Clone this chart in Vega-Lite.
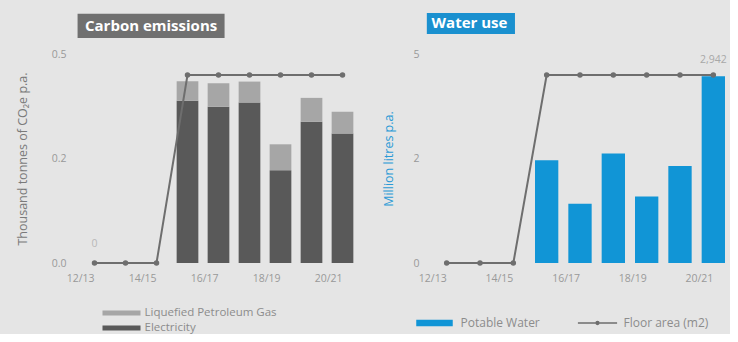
{
  "$schema": "https://vega.github.io/schema/vega-lite/v6.json",
  "background": "#e5e5e5",
  "padding": {"left": 16, "top": 13, "right": 0, "bottom": 0},
  "config": {
    "view": {"stroke": null},
    "font": "Open Sans",
    "axis": {"labelFont": "Open Sans", "titleFont": "Open Sans", "labelColor": "#999999", "labelFontSize": 10.5, "domain": false, "ticks": false, "grid": false},
    "legend": {"labelFont": "Open Sans", "labelColor": "#8c8c8c", "labelFontSize": 12}
  },
  "resolve": {"scale": {"color": "independent"}, "legend": {"color": "independent"}},
  "datasets": {
    "carbon": [
      {"year": "15/16", "source": "Electricity", "ord": 1, "value": 0.388},
      {"year": "15/16", "source": "Liquefied Petroleum Gas", "ord": 2, "value": 0.047},
      {"year": "16/17", "source": "Electricity", "ord": 1, "value": 0.374},
      {"year": "16/17", "source": "Liquefied Petroleum Gas", "ord": 2, "value": 0.056},
      {"year": "17/18", "source": "Electricity", "ord": 1, "value": 0.384},
      {"year": "17/18", "source": "Liquefied Petroleum Gas", "ord": 2, "value": 0.050},
      {"year": "18/19", "source": "Electricity", "ord": 1, "value": 0.222},
      {"year": "18/19", "source": "Liquefied Petroleum Gas", "ord": 2, "value": 0.062},
      {"year": "19/20", "source": "Electricity", "ord": 1, "value": 0.338},
      {"year": "19/20", "source": "Liquefied Petroleum Gas", "ord": 2, "value": 0.057},
      {"year": "20/21", "source": "Electricity", "ord": 1, "value": 0.310},
      {"year": "20/21", "source": "Liquefied Petroleum Gas", "ord": 2, "value": 0.052}
    ],
    "water": [
      {"year": "15/16", "series": "Potable Water", "value": 2.46},
      {"year": "16/17", "series": "Potable Water", "value": 1.42},
      {"year": "17/18", "series": "Potable Water", "value": 2.62},
      {"year": "18/19", "series": "Potable Water", "value": 1.59},
      {"year": "19/20", "series": "Potable Water", "value": 2.32},
      {"year": "20/21", "series": "Potable Water", "value": 4.47}
    ],
    "floor": [
      {"year": "12/13", "area": 0},
      {"year": "13/14", "area": 0},
      {"year": "14/15", "area": 0},
      {"year": "15/16", "area": 2942},
      {"year": "16/17", "area": 2942},
      {"year": "17/18", "area": 2942},
      {"year": "18/19", "area": 2942},
      {"year": "19/20", "area": 2942},
      {"year": "20/21", "area": 2942}
    ],
    "leftLabel": [{"year": "12/13", "area": 0, "lbl": "0"}],
    "rightLabel": [{"year": "20/21", "area": 2942, "lbl": "2,942"}],
    "leftTitle": [{"t": "Carbon emissions"}],
    "rightTitle": [{"t": "Water use"}]
  },
  "spacing": 24,
  "hconcat": [
    {
      "width": 279,
      "height": 209,
      "resolve": {"scale": {"y": "independent"}},
      "layer": [
        {
          "data": {"name": "leftTitle"},
          "mark": {"type": "rect", "color": "#707070", "clip": false},
          "encoding": {
            "x": {"datum": "12/13", "bandPosition": -0.28, "type": "ordinal", "scale": {"domain": ["12/13","13/14","14/15","15/16","16/17","17/18","18/19","19/20","20/21"], "paddingInner": 0.3, "paddingOuter": 0.15}},
            "x2": {"datum": "16/17", "bandPosition": 0.78},
            "y": {"datum": 0.538, "type": "quantitative", "scale": {"domain": [0, 0.5]}, "axis": null},
            "y2": {"datum": 0.596}
          }
        },
        {
          "data": {"name": "leftTitle"},
          "mark": {"type": "text", "color": "white", "fontWeight": "bold", "fontSize": 15, "baseline": "middle", "align": "center"},
          "encoding": {
            "x": {"datum": "14/15", "bandPosition": 0.25, "type": "ordinal"},
            "y": {"datum": 0.567, "type": "quantitative", "scale": {"domain": [0, 0.5]}, "axis": null},
            "text": {"field": "t"}
          }
        },
        {
          "data": {"name": "carbon"},
          "mark": {"type": "bar"},
          "encoding": {
            "x": {"field": "year", "type": "ordinal", "axis": {"title": null, "labelAngle": 0, "values": ["12/13","14/15","16/17","18/19","20/21"], "labelPadding": 15}},
            "y": {"field": "value", "type": "quantitative", "stack": "zero", "scale": {"domain": [0, 0.5]},
              "axis": {"values": [0, 0.25, 0.5], "labelExpr": "datum.value == 0.25 ? '0.2' : format(datum.value, '.1f')", "labelPadding": 13, "title": "Thousand tonnes of CO₂e p.a.", "titleColor": "#7a7a7a", "titleFontSize": 12.5, "titleFontWeight": "normal", "titlePadding": 22}},
            "color": {"field": "source", "type": "nominal",
              "scale": {"domain": ["Liquefied Petroleum Gas", "Electricity"], "range": ["#a6a6a6", "#595959"]},
              "legend": {"title": null, "orient": "none", "legendX": 34.5, "legendY": 251, "symbolType": "M-2.714,-0.36H2.714V0.36H-2.714Z", "symbolSize": 196, "rowPadding": 1, "labelOffset": 15, "labelFontSize": 11.5}},
            "order": {"field": "ord"}
          }
        },
        {
          "data": {"name": "floor"},
          "mark": {"type": "line", "color": "#6e6e6e", "strokeWidth": 2, "point": {"filled": true, "size": 30, "color": "#6e6e6e"}},
          "encoding": {
            "x": {"field": "year", "type": "ordinal"},
            "y": {"field": "area", "type": "quantitative", "scale": {"domain": [0, 3270]}, "axis": null}
          }
        },
        {
          "data": {"name": "leftLabel"},
          "mark": {"type": "text", "color": "#b8b8b8", "fontSize": 10.5, "dy": -19},
          "encoding": {
            "x": {"field": "year", "type": "ordinal"},
            "y": {"field": "area", "type": "quantitative", "scale": {"domain": [0, 3270]}, "axis": null},
            "text": {"field": "lbl"}
          }
        }
      ]
    },
    {
      "width": 300,
      "height": 209,
      "resolve": {"scale": {"y": "independent"}},
      "layer": [
        {
          "data": {"name": "rightTitle"},
          "mark": {"type": "rect", "color": "#1a90cf", "clip": false},
          "encoding": {
            "x": {"datum": "12/13", "bandPosition": -0.35, "type": "ordinal", "scale": {"domain": ["12/13","13/14","14/15","15/16","16/17","17/18","18/19","19/20","20/21"], "paddingInner": 0.3, "paddingOuter": 0.15}},
            "x2": {"datum": "14/15", "bandPosition": 0.57},
            "y": {"datum": 5.48, "type": "quantitative", "scale": {"domain": [0, 5]}, "axis": null},
            "y2": {"datum": 5.98}
          }
        },
        {
          "data": {"name": "rightTitle"},
          "mark": {"type": "text", "color": "white", "fontWeight": "bold", "fontSize": 15, "baseline": "middle", "align": "center"},
          "encoding": {
            "x": {"datum": "13/14", "bandPosition": 0.05, "type": "ordinal"},
            "y": {"datum": 5.73, "type": "quantitative", "scale": {"domain": [0, 5]}, "axis": null},
            "text": {"field": "t"}
          }
        },
        {
          "data": {"name": "water"},
          "mark": {"type": "bar"},
          "encoding": {
            "x": {"field": "year", "type": "ordinal", "axis": {"title": null, "labelAngle": 0, "values": ["12/13","14/15","16/17","18/19","20/21"], "labelPadding": 15}},
            "y": {"field": "value", "type": "quantitative", "scale": {"domain": [0, 5]},
              "axis": {"values": [0, 2.5, 5], "labelExpr": "datum.value == 2.5 ? '2' : format(datum.value, 'd')", "labelPadding": 11, "title": "Million litres p.a.", "titleColor": "#2a9ad6", "titleFontSize": 12.5, "titleFontWeight": "normal", "titlePadding": 17}},
            "color": {"field": "series", "type": "nominal",
              "scale": {"domain": ["Potable Water", "Floor area (m2)"], "range": ["#1195d6", "#6e6e6e"]},
              "legend": {"title": null, "orient": "none", "direction": "horizontal", "legendX": -3.5, "legendY": 261, "symbolType": "M-2.5,-0.36H2.5V0.36H-2.5Z", "symbolSize": 196, "columnPadding": 34, "labelOffset": 18,
                "encode": {"symbols": {"update": {
                  "shape": {"signal": "datum.value === 'Potable Water' ? 'M-2.5,-0.36H2.5V0.36H-2.5Z' : 'M-2.8,0H2.8M-0.2,0A0.2,0.2 0 1,0 0.2,0A0.2,0.2 0 1,0 -0.2,0'"},
                  "stroke": {"signal": "datum.value === 'Potable Water' ? 'transparent' : '#6e6e6e'"},
                  "strokeWidth": {"value": 1.5}
                }}}}}
          }
        },
        {
          "data": {"name": "floor"},
          "mark": {"type": "line", "strokeWidth": 2, "point": {"filled": true, "size": 30}},
          "encoding": {
            "x": {"field": "year", "type": "ordinal"},
            "y": {"field": "area", "type": "quantitative", "scale": {"domain": [0, 3270]}, "axis": null},
            "color": {"datum": "Floor area (m2)"}
          }
        },
        {
          "data": {"name": "rightLabel"},
          "mark": {"type": "text", "color": "#a8a8a8", "fontSize": 10.5, "dy": -15},
          "encoding": {
            "x": {"field": "year", "type": "ordinal"},
            "y": {"field": "area", "type": "quantitative", "scale": {"domain": [0, 3270]}, "axis": null},
            "text": {"field": "lbl"}
          }
        }
      ]
    }
  ]
}
